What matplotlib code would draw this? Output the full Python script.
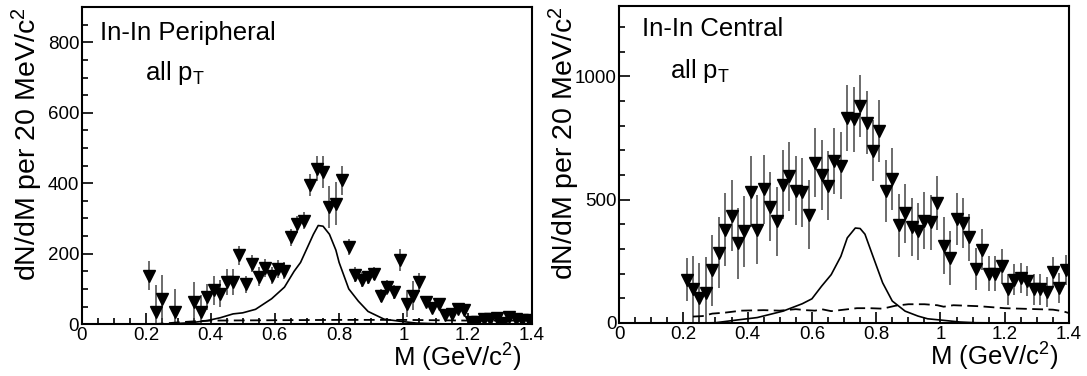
import matplotlib
matplotlib.use("Agg")
import matplotlib.pyplot as plt
from matplotlib.ticker import MultipleLocator

plt.rcParams['font.family'] = ['Liberation Sans', 'DejaVu Sans']
plt.rcParams['mathtext.fontset'] = 'custom'
plt.rcParams['mathtext.rm'] = 'Liberation Sans'
plt.rcParams['mathtext.it'] = 'Liberation Sans'

# ---- peripheral data ----
per_m = [0.21, 0.23, 0.25, 0.29, 0.35, 0.37, 0.39, 0.41, 0.43, 0.45, 0.47, 0.49,
         0.51, 0.53, 0.55, 0.57, 0.59, 0.61, 0.63, 0.65, 0.67, 0.69, 0.71, 0.73,
         0.75, 0.77, 0.79, 0.81, 0.83, 0.85, 0.87, 0.89, 0.91, 0.93, 0.95, 0.97,
         0.99, 1.01, 1.03, 1.05, 1.07, 1.09, 1.11, 1.13, 1.15, 1.17, 1.19, 1.21,
         1.23, 1.25, 1.27, 1.29, 1.31, 1.33, 1.35, 1.37, 1.39]
per_y = [138, 34, 72, 34, 62, 34, 77, 96, 86, 120, 120, 195,
         113, 171, 135, 160, 138, 157, 152, 247, 283, 294, 394, 441,
         432, 332, 342, 408, 219, 140, 126, 133, 143, 81, 105, 91,
         181, 58, 81, 119, 62, 46, 58, 25, 29, 44, 39, 6,
         6, 15, 15, 17, 3, 20, 15, 13, 13]
per_err = [40, 78, 68, 65, 57, 50, 38, 42, 38, 36, 36, 28,
           25, 24, 26, 25, 24, 26, 24, 24, 23, 25, 31, 35,
           45, 60, 62, 41, 23, 21, 21, 19, 19, 19, 21, 19,
           31, 38, 41, 27, 14, 14, 13, 10, 13, 11, 13, 8,
           8, 8, 8, 8, 8, 8, 8, 8, 8]

per_rho_m = [0.0, 0.25, 0.30, 0.34, 0.39, 0.43, 0.47, 0.50, 0.54, 0.59, 0.63, 0.66,
             0.68, 0.70, 0.72, 0.735, 0.75, 0.77, 0.79, 0.80, 0.83, 0.86, 0.89,
             0.94, 0.99, 1.04, 1.10, 1.20, 1.40]
per_rho_y = [0, 0, 2, 4, 10, 18, 29, 32, 42, 72, 105, 150,
             175, 215, 255, 280, 278, 255, 210, 175, 100, 65, 36,
             14, 8, 3, 1, 0, 0]
per_bkg_m = [0.22, 0.26, 0.30, 0.35, 0.40, 0.60, 0.80, 1.00, 1.20, 1.40]
per_bkg_y = [0, 2, 5, 8, 10, 11, 12, 12, 10, 10]

# ---- central data ----
cen_m = [0.21, 0.23, 0.25, 0.27, 0.29, 0.31, 0.33, 0.35, 0.37, 0.39, 0.41, 0.43,
         0.45, 0.47, 0.49, 0.51, 0.53, 0.55, 0.57, 0.59, 0.61, 0.63, 0.65, 0.67,
         0.69, 0.71, 0.73, 0.75, 0.77, 0.79, 0.81, 0.83, 0.85, 0.87, 0.89, 0.91,
         0.93, 0.95, 0.97, 0.99, 1.01, 1.03, 1.05, 1.07, 1.09, 1.11, 1.13, 1.15,
         1.17, 1.19, 1.21, 1.23, 1.25, 1.27, 1.29, 1.31, 1.33, 1.35, 1.37, 1.39]
cen_y = [176, 136, 102, 122, 213, 284, 378, 435, 324, 371, 532, 378,
         542, 472, 412, 560, 594, 537, 530, 439, 650, 600, 556, 657,
         638, 832, 825, 879, 812, 699, 779, 536, 584, 396, 445, 388,
         371, 415, 408, 486, 314, 264, 421, 405, 347, 219, 297, 200,
         200, 230, 136, 176, 183, 170, 136, 136, 125, 206, 143, 214]
cen_err = [87, 135, 140, 145, 145, 144, 147, 143, 144, 143, 143, 140,
           140, 140, 140, 140, 140, 140, 140, 140, 140, 140, 140, 135,
           135, 133, 130, 127, 127, 125, 125, 125, 125, 127, 120, 118,
           115, 115, 112, 110, 117, 110, 105, 100, 95, 87, 83, 72,
           70, 70, 63, 62, 62, 62, 62, 62, 62, 60, 60, 60]

cen_rho_m = [0.0, 0.25, 0.30, 0.36, 0.43, 0.47, 0.51, 0.57, 0.60, 0.63, 0.66, 0.69,
             0.71, 0.735, 0.75, 0.765, 0.79, 0.82, 0.85, 0.89, 0.93, 0.96, 1.00,
             1.06, 1.11, 1.20, 1.40]
cen_rho_y = [0, 0, 1, 11, 22, 35, 48, 78, 98, 149, 196, 270,
             345, 385, 383, 360, 270, 163, 89, 48, 28, 17, 12,
             4, 1, 0, 0]
cen_bkg_m = [0.23, 0.26, 0.29, 0.33, 0.38, 0.45, 0.50, 0.55, 0.58, 0.61, 0.63, 0.66,
             0.70, 0.74, 0.78, 0.82, 0.86, 0.90, 0.95, 0.99, 1.01, 1.04, 1.08,
             1.12, 1.16, 1.20, 1.25, 1.30, 1.35, 1.38, 1.40]
cen_bkg_y = [26, 28, 38, 42, 50, 52, 50, 56, 52, 50, 56, 48,
             54, 60, 60, 58, 70, 76, 76, 72, 66, 72, 70,
             68, 64, 60, 58, 56, 54, 48, 40]

fig = plt.figure(figsize=(10.87, 3.76), dpi=100)
ax1 = fig.add_axes([0.0754, 0.138, 0.414, 0.843])
ax2 = fig.add_axes([0.5695, 0.141, 0.414, 0.843])

panels = [
    (ax1, per_m, per_y, per_err, per_rho_m, per_rho_y, per_bkg_m, per_bkg_y,
     900, 200, 50, "In-In Peripheral", (0.04, 0.895), (0.14, 0.77)),
    (ax2, cen_m, cen_y, cen_err, cen_rho_m, cen_rho_y, cen_bkg_m, cen_bkg_y,
     1285, 500, 100, "In-In Central", (0.05, 0.905), (0.113, 0.773)),
]

for (ax, m, y, err, rm, ry, bm, by, ymax, ymaj, ymin,
     title, tpos, ppos) in panels:
    ax.errorbar(m, y, yerr=err, fmt='none', ecolor='#444444', elinewidth=1.1,
                capsize=0, zorder=2)
    ax.plot(m, y, 'v', color='black', markersize=8.5, zorder=3)
    ax.plot(rm, ry, '-', color='black', lw=1.2, zorder=2)
    ax.plot(bm, by, color='black', lw=1.3, linestyle=(0, (6, 3)), zorder=2)

    ax.set_xlim(0, 1.4)
    ax.set_ylim(0, ymax)
    ax.xaxis.set_major_locator(MultipleLocator(0.2))
    ax.xaxis.set_minor_locator(MultipleLocator(0.05))
    ax.yaxis.set_major_locator(MultipleLocator(ymaj))
    ax.yaxis.set_minor_locator(MultipleLocator(ymin))
    ax.xaxis.set_major_formatter(plt.FuncFormatter(lambda v, p: ('%g' % round(v, 2))))
    ax.tick_params(which='both', direction='in', top=False, right=False,
                   labelsize=13.5, width=1.2)
    ax.tick_params(which='major', length=8, pad=2)
    ax.tick_params(which='minor', length=4.5)
    for s in ax.spines.values():
        s.set_linewidth(1.5)

    ax.text(tpos[0], tpos[1], title, transform=ax.transAxes, fontsize=18.5,
            ha='left', va='baseline')
    ax.text(ppos[0], ppos[1], r'all p$_\mathrm{T}$', transform=ax.transAxes,
            fontsize=18.5, ha='left', va='baseline')
    ax.text(0.978, -0.135, r'M (GeV/c$^\mathrm{2}$)', transform=ax.transAxes,
            fontsize=18.5, ha='right', va='baseline')
    ax.text(-0.122, 1.0, r'dN/dM per 20 MeV/c$^\mathrm{2}$', transform=ax.transAxes,
            fontsize=20.5, rotation=90, ha='center', va='top')

fig.savefig('out.png', dpi=100)
